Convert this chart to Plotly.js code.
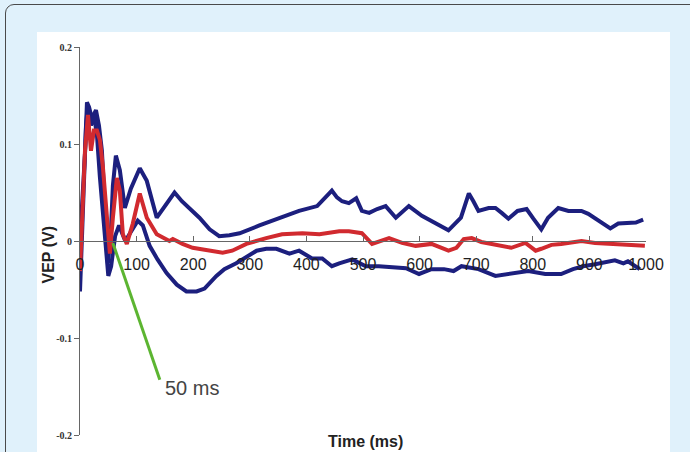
<!DOCTYPE html>
<html>
<head>
<meta charset="utf-8">
<script src="https://cdn.plot.ly/plotly-3.0.1.min.js"></script>
<style>
html,body{margin:0;padding:0;width:690px;height:452px;overflow:hidden;background:#e0f1fb;}
#frame{position:absolute;left:5px;top:4px;width:700px;height:470px;border:1.5px solid #4a4a4a;border-radius:9px;background:#e0f1fb;box-sizing:border-box;}
#paper{position:absolute;left:37px;top:32px;width:633px;height:430px;background:#ffffff;}
#chart{position:absolute;left:0;top:0;width:690px;height:452px;}
</style>
</head>
<body>
<div id="frame"></div>
<div id="paper"></div>
<div id="chart"></div>
<script>
// Time (ms) and VEP (V) values
const upperT = [0,3.5,8.8,12.3,16,21.1,24.6,28.2,33.5,38.7,44,49.3,54.6,58.1,63.4,70.4,79.2,89.8,105.6,118,135.6,150,167,180,194,211,229,246,264,282,317,352,387,419,433,445,454,463,475,488,498,511,525,540,558,581,604,629,651,673,687,695,704,722,734,745,757,773,789,801,815,827,845,863,886,898,910,924,937,951,968,982,995];
const upperV = [0,0.031,0.090,0.143,0.138,0.126,0.131,0.135,0.119,0.093,0.034,-0.023,0.010,0.057,0.088,0.073,0.034,0.054,0.075,0.062,0.024,0.036,0.050,0.041,0.033,0.024,0.012,0.005,0.006,0.008,0.016,0.024,0.031,0.036,0.045,0.052,0.045,0.041,0.039,0.044,0.031,0.029,0.033,0.036,0.024,0.036,0.026,0.018,0.011,0.024,0.049,0.041,0.031,0.034,0.034,0.029,0.023,0.031,0.033,0.023,0.012,0.024,0.034,0.031,0.031,0.028,0.023,0.018,0.013,0.018,0.019,0.019,0.022];

const lowerT = [0,3.5,7,10.6,14.1,19.4,24.6,30,35,43,50,55,62,69,80,90.6,102,111,123,137,153,171,188,206,220,241,255,276,294,312,329,347,370,387,410,428,445,458,481,505,528,555,576,599,621,643,660,674,704,734,757,792,822,850,871,889,910,933,945,960,968,989];
const lowerV = [-0.052,0,0.062,0.119,0.140,0.119,0.130,0.109,0.067,0.005,-0.036,-0.026,0.005,0.016,0,0.010,0.021,0.016,-0.005,-0.019,-0.033,-0.045,-0.052,-0.052,-0.049,-0.036,-0.029,-0.023,-0.016,-0.010,-0.008,-0.008,-0.013,-0.010,-0.018,-0.018,-0.026,-0.023,-0.019,-0.026,-0.026,-0.027,-0.028,-0.034,-0.029,-0.029,-0.031,-0.026,-0.029,-0.036,-0.034,-0.031,-0.034,-0.034,-0.029,-0.026,-0.024,-0.022,-0.020,-0.023,-0.021,-0.029];

const meanT = [0,1.8,5.3,8.8,12.3,14.1,19.4,24.6,29.9,35.2,40.5,47.5,52.8,58.1,65.1,70.4,75.7,82.7,93.3,105.6,118,135.6,158,164,181,199,229,252,269,294,329,357,393,423,458,475,498,516,546,569,593,621,651,665,678,692,709,734,762,787,805,815,833,850,886,910,945,977,998];
const meanV = [-0.031,0,0.052,0.093,0.117,0.130,0.093,0.114,0.114,0.104,0.076,0.021,-0.013,0.024,0.065,0.052,0.007,-0.003,0.018,0.049,0.024,0.007,0,0.002,-0.003,-0.007,-0.010,-0.012,-0.010,-0.003,0.003,0.007,0.008,0.007,0.010,0.010,0.008,-0.003,0.003,-0.002,-0.005,-0.003,-0.010,-0.007,0.002,0.003,-0.001,-0.004,-0.007,-0.002,-0.010,-0.008,-0.004,-0.003,0,-0.002,-0.003,-0.004,-0.005];

const xTicks = [0,100,200,300,400,500,600,700,800,900,1000];
const xTickText = ['0','100','200','300','400','500','600','700','800','900','1000'];
const yTicks = [-0.2,-0.1,0,0.1,0.2];
const yTickText = ['-0.2','-0.1','0','0.1','0.2'];

const navy = '#1c1f7e';
const red = '#d12a2f';

const traces = [
  {x: upperT, y: upperV, mode: 'lines', line: {color: navy, width: 4, shape: 'linear'}, hoverinfo: 'skip'},
  {x: lowerT, y: lowerV, mode: 'lines', line: {color: navy, width: 4, shape: 'linear'}, hoverinfo: 'skip'},
  {x: meanT, y: meanV, mode: 'lines', line: {color: red, width: 4, shape: 'linear'}, hoverinfo: 'skip'}
];

const layout = {
  width: 690, height: 452,
  margin: {l: 79.5, r: 44, t: 47, b: 17},
  paper_bgcolor: 'rgba(0,0,0,0)',
  plot_bgcolor: 'rgba(0,0,0,0)',
  showlegend: false,
  xaxis: {
    range: [0, 1000], anchor: 'free', position: 0.5,
    tickvals: xTicks, ticktext: xTickText,
    showline: true, linecolor: '#666', linewidth: 1,
    ticks: 'inside', ticklen: 5, tickcolor: '#666',
    showgrid: false, zeroline: false,
    ticklabelstandoff: 9,
    tickfont: {family: 'Liberation Sans, Arial, sans-serif', size: 16, color: '#1e1e1e'}
  },
  yaxis: {
    range: [-0.2, 0.2],
    tickvals: yTicks, ticktext: yTickText,
    showline: true, linecolor: '#666', linewidth: 1,
    ticks: 'outside', ticklen: 5, tickcolor: '#666',
    showgrid: false, zeroline: false,
    tickfont: {family: 'Liberation Serif, Times New Roman, serif', size: 10, color: '#333', weight: 'bold'}
  },
  shapes: [
    {type: 'line', xref: 'x', yref: 'y', x0: 58, y0: -0.002, x1: 141, y1: -0.143, line: {color: '#5cb531', width: 3}}
  ],
  annotations: [
    {text: '50 ms', xref: 'paper', yref: 'paper', x: (163 - 79.5) / 566.5, y: (435 - 388) / 388, xanchor: 'left', yanchor: 'middle', showarrow: false,
     font: {family: 'Liberation Sans, Arial, sans-serif', size: 20, color: '#444'}},
    {text: '<b>Time (ms)</b>', xref: 'paper', yref: 'paper', x: (365 - 79.5) / 566.5, y: (435 - 441) / 388, xanchor: 'center', yanchor: 'middle', showarrow: false,
     font: {family: 'Liberation Sans, Arial, sans-serif', size: 16, color: '#222'}},
    {text: '<b>VEP (V)</b>', xref: 'paper', yref: 'paper', x: (47 - 79.5) / 566.5, y: (435 - 255) / 388, xanchor: 'center', yanchor: 'middle', textangle: -90, showarrow: false,
     font: {family: 'Liberation Sans, Arial, sans-serif', size: 16, color: '#222'}}
  ]
};

Plotly.newPlot('chart', traces, layout, {staticPlot: true, displayModeBar: false});
</script>
</body>
</html>
